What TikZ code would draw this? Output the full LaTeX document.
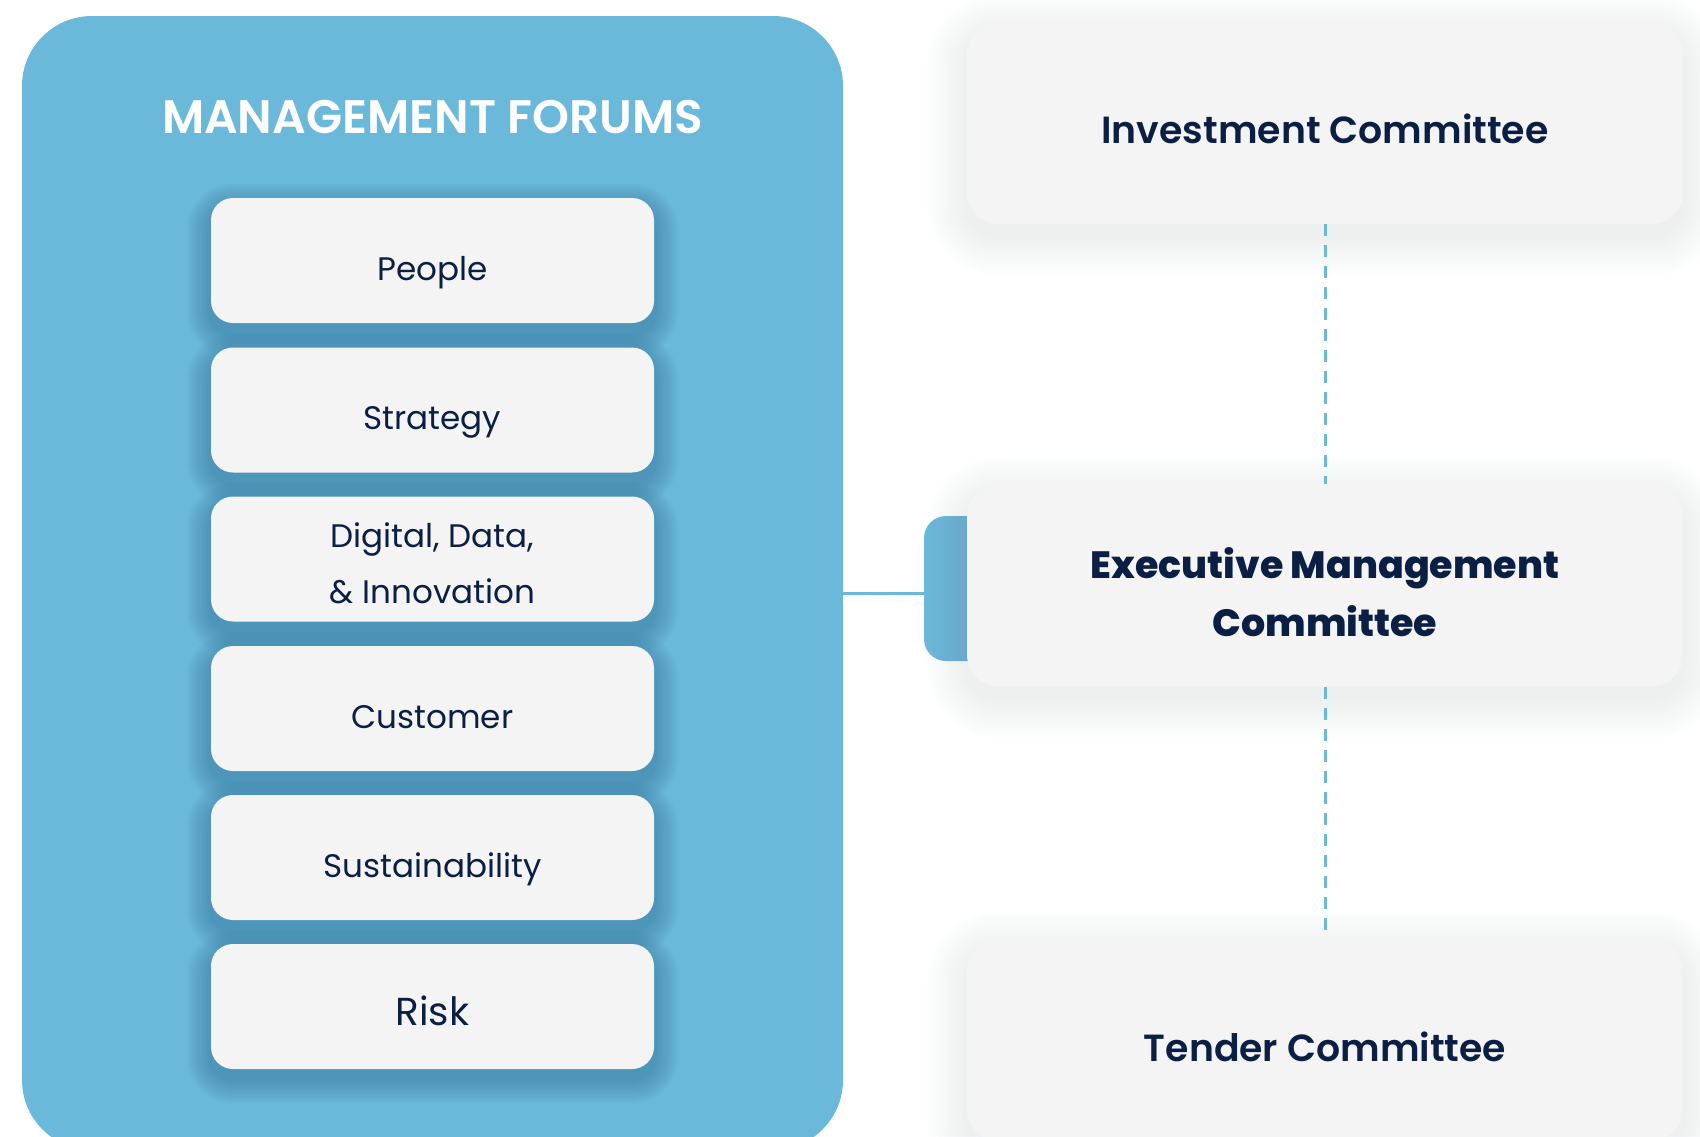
\documentclass[tikz,border=0pt]{standalone}
\usepackage{fontspec}
\setmainfont{Poppins}
\newfontfamily\popsemi{Poppins SemiBold}
\newfontfamily\popxb{Poppins ExtraBold}
\usetikzlibrary{calc}
\definecolor{panelblue}{HTML}{6AB8DA}
\definecolor{boxgray}{HTML}{F4F4F4}
\definecolor{navy}{HTML}{0B1F45}
\definecolor{shadowblue}{HTML}{1F5F85}
\definecolor{shadowgray}{HTML}{7D8CA5}
\pgfdeclarelayer{bg}
\pgfdeclarelayer{shadowlayer}
\pgfsetlayers{bg,shadowlayer,main}
% #1 node, #2 yshift (pt), #3 spread (pt), #4 steps, #5 opacity per step, #6 colour, #7 base radius (pt)
\newcommand\dropshadow[7]{%
  \begin{pgfonlayer}{shadowlayer}
  \foreach \k in {1,...,#4}{%
    \pgfmathsetmacro\sp{#3*\k/#4}%
    \pgfmathsetmacro\rr{#7+\sp}%
    \fill[#6, opacity=#5, rounded corners=\rr pt]
      ($(#1.south west)+(-\sp pt,-\sp pt+#2 pt)$) rectangle ($(#1.north east)+(\sp pt,\sp pt+#2 pt)$);
  }%
  \end{pgfonlayer}}
\tikzset{
  forum/.style={fill=boxgray, rounded corners=11pt, minimum width=221.5pt, minimum height=62.5pt,
    text=navy, font=\fontsize{16.3pt}{28pt}\selectfont, align=center, inner sep=0pt},
  forumone/.style={forum, text height=19.5pt, text depth=0pt},
  committee/.style={fill=boxgray, rounded corners=16pt, minimum width=358pt, minimum height=101pt,
    text=navy, align=center, inner sep=0pt},
  dashlink/.style={draw=panelblue, line width=1.5pt, dash pattern=on 6pt off 4.5pt},
}
\begin{document}
\begin{tikzpicture}[x=0.5pt,y=-0.5pt]
\useasboundingbox (0,0) rectangle (1700,1136);
\begin{pgfonlayer}{bg}
\fill[white] (0,0) rectangle (1700,1136);
\node[fill=panelblue, rounded corners=35pt, minimum width=410.5pt, minimum height=567pt, inner sep=0pt] (panel) at (432.5,583) {};
\node[fill=panelblue, rounded corners=11pt, minimum width=36pt, minimum height=72.5pt, inner sep=0pt] (tab) at (960,588.5) {};
\end{pgfonlayer}
\node[text=white, font=\popsemi\fontsize{23.5pt}{28pt}\selectfont] (title) at (432.5,117) {MANAGEMENT FORUMS};
% forum boxes
\node[forumone] (people) at (432.5,260.5) {People};
\node[forumone] (strategy) at (432.5,410) {Strategy};
\node[forum, text height=44.4pt] (digital) at (432.5,559) {Digital, Data,\\\& Innovation};
\node[forumone] (customer) at (432.5,708.5) {Customer};
\node[forumone] (sustain) at (432.5,857.5) {Sustainability};
\node[forumone, font=\fontsize{19.5pt}{22pt}\selectfont, text height=18.8pt] (risk) at (432.5,1006.5) {Risk};
\foreach \n in {people,strategy,digital,customer,sustain,risk}{
  \dropshadow{\n}{-5}{12}{14}{0.028}{shadowblue}{11}
}
% committees
\node[committee, font=\popsemi\fontsize{18.9pt}{24pt}\selectfont, text height=20pt, text depth=0pt] (invest) at (1325,123) {Investment Committee};
\node[committee, font=\popxb\fontsize{19pt}{29pt}\selectfont, text height=51pt] (exec) at (1325,585.5) {Executive Management\\Committee};
\node[committee, font=\popsemi\fontsize{18.9pt}{24pt}\selectfont, text height=21pt, text depth=0pt] (tender) at (1325,1040) {Tender Committee};
\foreach \n in {invest,exec,tender}{
  \dropshadow{\n}{-6}{20}{15}{0.008}{shadowgray}{16}
}
% connectors
\draw[panelblue, line width=1.5pt] ([yshift=-2.25pt]tab.west) -- ([yshift=-2.25pt]tab.west -| panel.east);
\draw[dashlink] (invest.south) -- (exec.north);
\draw[dashlink] (exec.south) -- (tender.north);
\end{tikzpicture}
\end{document}
